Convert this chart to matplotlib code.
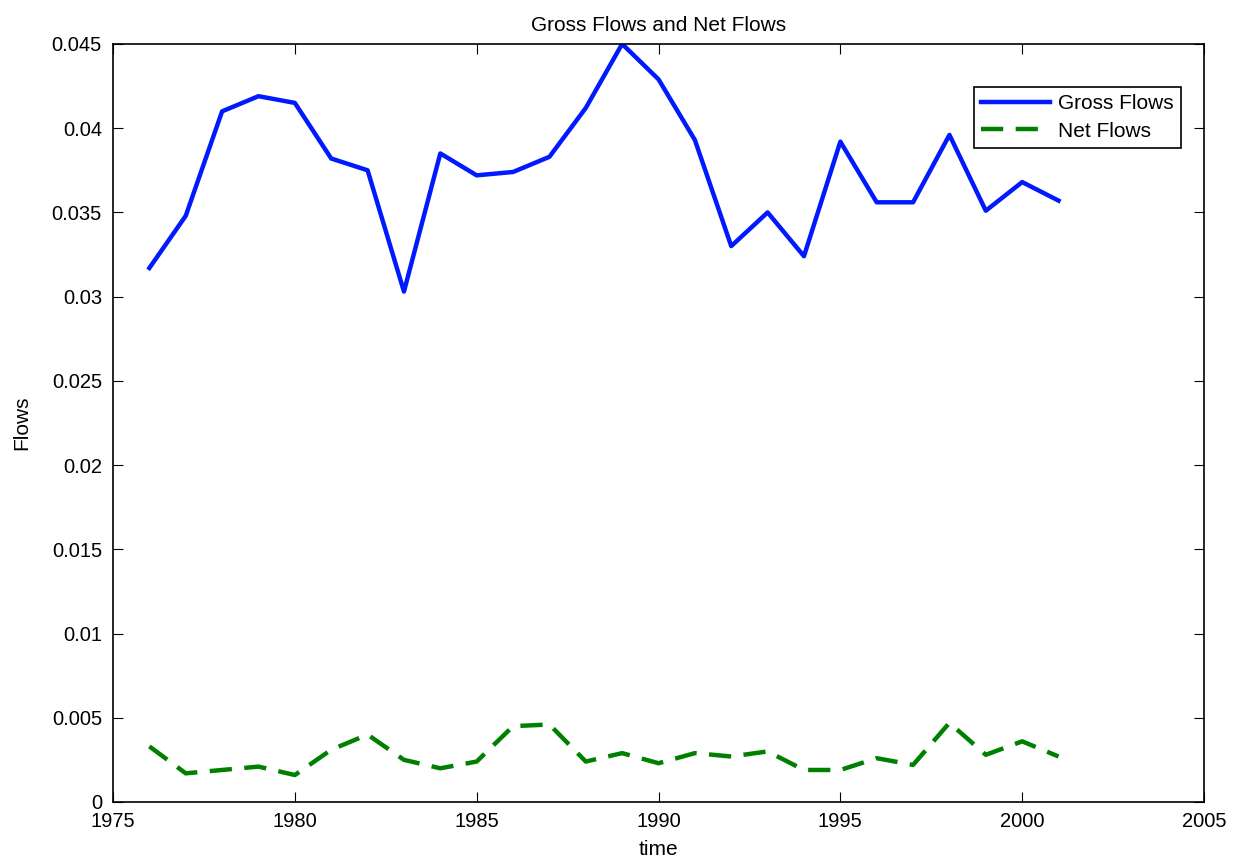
import numpy as np
import matplotlib
matplotlib.use('Agg')
import matplotlib.pyplot as plt

plt.rcParams['font.family'] = ['Liberation Sans', 'DejaVu Sans']
plt.rcParams['font.size'] = 15

# dados
years = np.arange(1976, 2002)
gross_flows = [0.0317, 0.0348, 0.0410, 0.0419, 0.0415, 0.0382, 0.0375, 0.0303,
               0.0385, 0.0372, 0.0374, 0.0383, 0.0412, 0.0450, 0.0429, 0.0393,
               0.0330, 0.0350, 0.0324, 0.0392, 0.0356, 0.0356, 0.0396, 0.0351,
               0.0368, 0.0357]
net_flows = [0.0033, 0.0017, 0.0019, 0.0021, 0.0016, 0.0031, 0.0040, 0.0025,
             0.0020, 0.0024, 0.0045, 0.0046, 0.0024, 0.0029, 0.0023, 0.0029,
             0.0027, 0.0030, 0.0019, 0.0019, 0.0026, 0.0022, 0.0047, 0.0028,
             0.0036, 0.0027]
x_ticks = [1975, 1980, 1985, 1990, 1995, 2000, 2005]
y_ticks = [0, 0.005, 0.01, 0.015, 0.02, 0.025, 0.03, 0.035, 0.04, 0.045]
y_labels = ['0', '0.005', '0.01', '0.015', '0.02', '0.025', '0.03',
            '0.035', '0.04', '0.045']

fig = plt.figure(figsize=(12.42, 8.67), dpi=100)
ax = fig.add_axes([0.091, 0.075, 0.8784, 0.8743])

ax.plot(years, gross_flows, color='#0019ff', linewidth=3.2, label='Gross Flows')
ax.plot(years, net_flows, color='#008000', linewidth=3.2, linestyle=(0, (5, 2.8)),
        label='Net Flows')

ax.set_xlim(1975, 2005)
ax.set_ylim(0, 0.045)
ax.set_xticks(x_ticks)
ax.set_yticks(y_ticks)
ax.set_yticklabels(y_labels)
ax.tick_params(direction='in', length=7, top=True, right=True, labelsize=14.5)
ax.tick_params(axis='x', pad=7)
ax.tick_params(axis='y', pad=8)
for s in ax.spines.values():
    s.set_linewidth(1.2)

ax.set_title('Gross Flows and Net Flows', fontsize=15, pad=9)
ax.set_xlabel('time', fontsize=15, labelpad=7)
ax.set_ylabel('Flows', fontsize=15, labelpad=15)

leg = ax.legend(loc='upper right', bbox_to_anchor=(0.979, 0.943), fancybox=False,
                framealpha=1, edgecolor='black', handlelength=3.3, fontsize=15,
                borderpad=0.35, labelspacing=0.4, handletextpad=0.4,
                borderaxespad=0)
leg.get_frame().set_linewidth(1.2)

fig.savefig('out.png', dpi=100)
